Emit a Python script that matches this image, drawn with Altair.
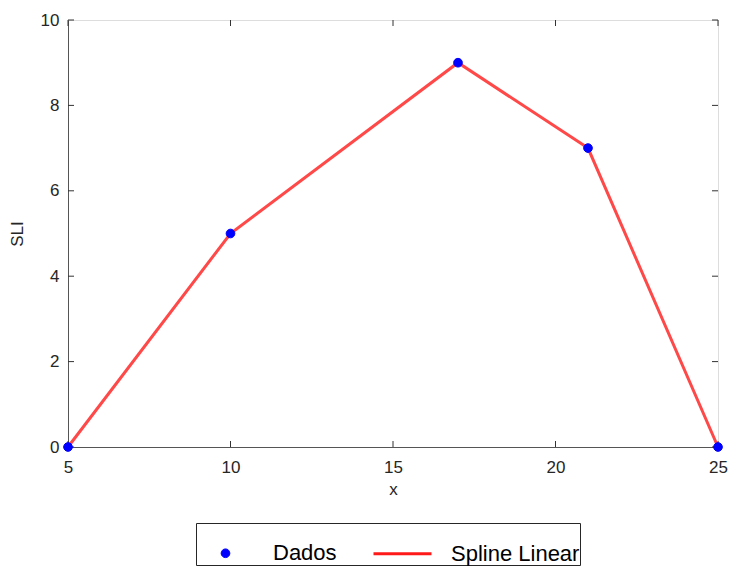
import altair as alt
import pandas as pd

# Sample points and the linear spline through them
x_vals = [5, 10, 17, 21, 25]
sli_vals = [0, 5, 9, 7, 0]
series_names = ["Dados", "Spline Linear"]
series_colors = ["#0000ff", "#ff1a1a"]
# small dot drawn inside the full symbol box, and a horizontal stroke
dot_path = "M-0.15,0a0.15,0.15 0 1,0 0.3,0a0.15,0.15 0 1,0 -0.3,0Z"
series_shapes = [dot_path, "stroke"]
series_widths = [1, 3]
x_ticks = [5, 10, 15, 20, 25]
y_ticks = [0, 2, 4, 6, 8, 10]

W, H = 650, 427
FONT = "Liberation Sans"
TXT = "#262626"
SYMBOL_SIZE = 3364

df = pd.DataFrame({"x": x_vals, "SLI": sli_vals})

x_scale = alt.Scale(domain=[5, 25], nice=False, zero=False)
y_scale = alt.Scale(domain=[0, 10], nice=False)

legend = alt.Legend(
    title=None,
    orient="none",
    legendX=128,
    legendY=503,
    direction="horizontal",
    strokeColor=TXT,
    fillColor="white",
    padding=0,
    symbolSize=SYMBOL_SIZE,
    labelFont=FONT,
    labelFontSize=22,
    labelColor="black",
    labelOffset=18,
    columnPadding=30,
)

x_axis = alt.Axis(
    values=x_ticks, title="x", grid=False, ticks=False, labelPadding=12,
    labelFlush=False, titlePadding=6, domainColor="#555", labelFontSize=17,
    titleFontSize=17, labelFont=FONT, titleFont=FONT, labelColor=TXT,
    titleColor=TXT, titleFontWeight="normal",
)
y_axis = alt.Axis(
    values=y_ticks, title="SLI", grid=False, ticks=False, labelPadding=9,
    labelFlush=False, titlePadding=14, domainColor="#555", labelFontSize=17,
    titleFontSize=17, labelFont=FONT, titleFont=FONT, labelColor=TXT,
    titleColor=TXT, titleFontWeight="normal",
)

line = (
    alt.Chart(df)
    .mark_line(strokeWidth=3, opacity=0.8, color=series_colors[1])
    .encode(
        x=alt.X("x:Q", scale=x_scale, axis=x_axis),
        y=alt.Y("SLI:Q", scale=y_scale, axis=y_axis),
    )
)

# The data points carry the shared legend for both series
points = (
    alt.Chart(df)
    .transform_calculate(serie="'Dados'")
    .mark_point(filled=False, fill=series_colors[0], opacity=1, size=SYMBOL_SIZE)
    .encode(
        x=alt.X("x:Q", scale=x_scale),
        y=alt.Y("SLI:Q", scale=y_scale),
        color=alt.Color("serie:N", scale=alt.Scale(domain=series_names, range=series_colors), legend=legend),
        shape=alt.Shape("serie:N", scale=alt.Scale(domain=series_names, range=series_shapes), legend=legend),
        strokeWidth=alt.StrokeWidth("serie:N", scale=alt.Scale(domain=series_names, range=series_widths), legend=legend),
    )
)

# Inward tick marks on all four sides of the box
xt = pd.DataFrame({"t": x_ticks})
yt = pd.DataFrame({"t": y_ticks})
tick_style = dict(color="#333", strokeWidth=1)
ticks_bottom = alt.Chart(xt).mark_rule(**tick_style).encode(
    x=alt.X("t:Q", scale=x_scale), y=alt.value(H), y2=alt.value(H - 6))
ticks_top = alt.Chart(xt).mark_rule(**tick_style).encode(
    x=alt.X("t:Q", scale=x_scale), y=alt.value(0), y2=alt.value(6))
ticks_left = alt.Chart(yt).mark_rule(**tick_style).encode(
    y=alt.Y("t:Q", scale=y_scale), x=alt.value(0), x2=alt.value(6))
ticks_right = alt.Chart(yt).mark_rule(**tick_style).encode(
    y=alt.Y("t:Q", scale=y_scale), x=alt.value(W), x2=alt.value(W - 6))

chart = (
    alt.layer(ticks_bottom, ticks_top, ticks_left, ticks_right, line, points)
    .properties(
        width=W,
        height=H,
        autosize=alt.AutoSizeParams(type="none"),
        padding={"left": 68, "top": 20, "right": 13, "bottom": 126},
    )
    .configure_view(stroke="#333", strokeWidth=1)
    .configure(background="white")
)

chart.save("out.html", embed_options={"renderer": "svg", "actions": False})
